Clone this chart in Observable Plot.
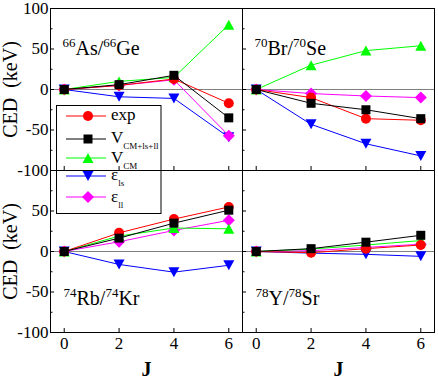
<!DOCTYPE html>
<html><head><meta charset="utf-8">
<script src="https://cdn.jsdelivr.net/npm/d3@7"></script>
<script src="https://cdn.jsdelivr.net/npm/@observablehq/plot@0.6"></script>
<style>
body{margin:0;background:#fff;}
#chart{position:relative;width:438px;height:382px;background:#fff;}
#chart svg.overlay{position:absolute;left:0;top:0;pointer-events:none;}
#chart > svg:first-child{display:block;}
#chart svg, #chart svg text, #chart svg tspan {font-family: "Liberation Serif", "Times New Roman", serif !important;}
</style></head><body><div id="chart"></div>
<script>
// ---- data ----
const J = [0, 2, 4, 6];
const panelLabels = ["66As/66Ge", "70Br/70Se", "74Rb/74Kr", "78Y/78Sr"];
const panelCols = ["L", "R", "L", "R"];
const panelRows = ["T", "T", "B", "B"];
const seriesNames = ["exp", "V_CM+ls+ll", "V_CM", "ε_ls", "ε_ll"];
// CED (keV) per panel, at J = 0,2,4,6
const expCED  = [[0, 5, 13, -17], [0, -10, -36, -38], [0, 23, 40, 55], [0, -1.5, 3.5, 8]];
const vTotCED = [[0, 6, 17.5, -35], [0, -17, -25, -36], [0, 16.5, 35, 51], [0, 3.5, 11.5, 20]];
const vCmCED  = [[0, 10, 15, 80], [0, 30, 48, 54], [0, 19, 29, 28], [0, 3, 8, 13.5]];
const eLsCED  = [[0, -9, -11, -59], [0, -43, -67, -82], [0, -16, -25.5, -17], [0, -2, -3.5, -6]];
const eLlCED  = [[0, 5, 12, -57], [0, -5, -8, -10], [0, 12, 26, 38.5], [0, 1, 5, 9]];
const yMajorTicks = [-100, -50, 0, 50, 100];
const yMinorTicks = [-75, -25, 25, 75];
const yLabelsTop = [100, 50, 0, -50, -100];
const yLabelsBottom = [50, 0, -50, -100];
const xTicks = [0, 2, 4, 6];

// ---- symbols ----
const rad = s => Math.sqrt(s / Math.PI);
const symCircle = {draw(c, s){ const r = rad(s); c.moveTo(r, 0); c.arc(0, 0, r, 0, 2 * Math.PI); c.closePath(); }};
const symSquare = {draw(c, s){ const h = rad(s) * 0.9; c.moveTo(-h, -h); c.lineTo(h, -h); c.lineTo(h, h); c.lineTo(-h, h); c.closePath(); }};
const symTriUp = {draw(c, s){ const r = rad(s); c.moveTo(0, -r); c.lineTo(r * 1.1, r); c.lineTo(-r * 1.1, r); c.closePath(); }};
const symTriDown = {draw(c, s){ const r = rad(s); c.moveTo(0, r); c.lineTo(r * 1.1, -r); c.lineTo(-r * 1.1, -r); c.closePath(); }};
const symDiamond = {draw(c, s){ const r = rad(s) * 1.2; c.moveTo(0, -r); c.lineTo(r, 0); c.lineTo(0, r); c.lineTo(-r, 0); c.closePath(); }};

const styles = {
  "exp": {color: "#ff0000", symbol: symCircle},
  "V_CM+ls+ll": {color: "#000000", symbol: symSquare},
  "V_CM": {color: "#00ff00", symbol: symTriUp},
  "ε_ls": {color: "#0000ff", symbol: symTriDown},
  "ε_ll": {color: "#ff00ff", symbol: symDiamond}
};
const seriesValues = [expCED, vTotCED, vCmCED, eLsCED, eLlCED];

const rows = [];
seriesNames.forEach((s, si) => seriesValues[si].forEach((vals, p) => vals.forEach((v, j) =>
  rows.push({series: s, panel: panelLabels[p], col: panelCols[p], row: panelRows[p], J: J[j], ced: v}))));

const drawOrder = ["ε_ls", "ε_ll", "V_CM", "exp", "V_CM+ls+ll"];
const seriesMarks = drawOrder.flatMap(s => {
  const d = rows.filter(r => r.series === s);
  const st = styles[s];
  return [
    Plot.line(d, {x: "J", y: "ced", fx: "col", fy: "row", stroke: st.color, strokeWidth: 1}),
    Plot.dot(d, {x: "J", y: "ced", fx: "col", fy: "row", r: 5, symbol: st.symbol, fill: st.color, stroke: "none"})
  ];
});

const yLabelData = [
  ...yLabelsTop.map(v => ({col: "L", row: "T", v})),
  ...yLabelsBottom.map(v => ({col: "L", row: "B", v}))
];
const xLabelData = ["L", "R"].flatMap(col => xTicks.map(v => ({col, row: "B", v})));
const topLabels = panelLabels.map((t, i) => ({t, col: panelCols[i], row: panelRows[i]})).filter(d => d.row === "T");
const botLabels = panelLabels.map((t, i) => ({t, col: panelCols[i], row: panelRows[i]})).filter(d => d.row === "B");

const font = "Liberation Serif, Times New Roman, serif";

const plot = Plot.plot({
  width: 438, height: 382,
  marginLeft: 50, marginRight: 4, marginTop: 8, marginBottom: 50,
  style: {fontFamily: font, fontSize: "16px", color: "black", background: "white", overflow: "visible"},
  x: {domain: [-0.5, 6.5], axis: null},
  y: {domain: [-100, 100], axis: null},
  fx: {domain: ["L", "R"], padding: 0, axis: null},
  fy: {domain: ["T", "B"], padding: 0, axis: null},
  marks: [
    Plot.ruleY([0], {stroke: "#808080", strokeWidth: 1}),
    Plot.axisY(yMajorTicks, {anchor: "left", tickSize: -4, fill: "none", label: null, facetAnchor: null}),
    Plot.axisY(yMinorTicks, {anchor: "left", tickSize: -2.5, fill: "none", label: null, facetAnchor: null}),
    Plot.axisX(xTicks, {anchor: "bottom", tickSize: -4, fill: "none", label: null, facetAnchor: null}),
    ...seriesMarks,
    Plot.frame({stroke: "black", strokeWidth: 1}),
    Plot.text(yLabelData, {fx: "col", fy: "row", y: "v", text: d => String(d.v), frameAnchor: "left", textAnchor: "end", dx: -2, fontSize: 17}),
    Plot.text(xLabelData, {fx: "col", fy: "row", x: "v", text: d => String(d.v), frameAnchor: "bottom", lineAnchor: "top", dy: 4, fontSize: 17}),
    Plot.text(["L", "R"].map(col => ({col, row: "B"})), {fx: "col", fy: "row", text: () => "J", frameAnchor: "bottom", textAnchor: "middle", dy: 43, fontSize: 20, fontWeight: "bold"}),
    Plot.text(["T", "B"].map(row => ({col: "L", row})), {fx: "col", fy: "row", text: () => "CED  (keV)", frameAnchor: "left", textAnchor: "middle", dx: -40, rotate: -90, fontSize: 20}),
    Plot.text(topLabels, {fx: "col", fy: "row", text: "t", frameAnchor: "top-left", textAnchor: "start", dx: 12, dy: 32, fontSize: 20}),
    Plot.text(botLabels, {fx: "col", fy: "row", text: "t", frameAnchor: "bottom-left", textAnchor: "start", dx: 13, dy: -28, fontSize: 20})
  ]
});

// superscript mass numbers in panel labels
d3.select(plot).selectAll("text").each(function() {
  const s = this.textContent;
  if (!/^\d+[A-Za-z]+\/\d+[A-Za-z]+$/.test(s)) return;
  const t = d3.select(this);
  t.text(null);
  s.split("/").forEach((part, i) => {
    const m = part.match(/^(\d+)(.+)$/);
    if (i > 0) t.append("tspan").text("/");
    t.append("tspan").attr("font-size", 13).attr("dy", -8).text(m[1]);
    t.append("tspan").attr("dy", 8).text(m[2]);
  });
});

const chart = document.getElementById("chart");
chart.appendChild(plot);

// ---- legend overlay ----
const ov = d3.select(chart).append("svg").attr("class", "overlay")
  .attr("width", 438).attr("height", 382)
  .style("font-family", font);
ov.append("rect").attr("x", 56.5).attr("y", 105.5).attr("width", 104.5).attr("height", 108)
  .attr("fill", "none").attr("stroke", "black").attr("stroke-width", 1);
const legendRows = [116, 139, 158, 176, 197];
const legendBase = [120, 143, 163, 180, 201.5];
seriesNames.forEach((s, i) => {
  const st = styles[s];
  const y = legendRows[i];
  ov.append("line").attr("x1", 66).attr("x2", 106).attr("y1", y).attr("y2", y)
    .attr("stroke", st.color).attr("stroke-width", 1);
  const p = d3.path();
  st.symbol.draw(p, Math.PI * 25);
  ov.append("path").attr("d", p.toString()).attr("transform", `translate(88,${y})`).attr("fill", st.color);
  const [main, sub] = s.split("_");
  const t = ov.append("text").attr("x", 111).attr("y", legendBase[i]).attr("font-size", 17).attr("fill", "black");
  t.append("tspan").text(main);
  if (sub) t.append("tspan").attr("font-size", 9).attr("dy", 6).text(sub);
});
</script>
</body></html>
